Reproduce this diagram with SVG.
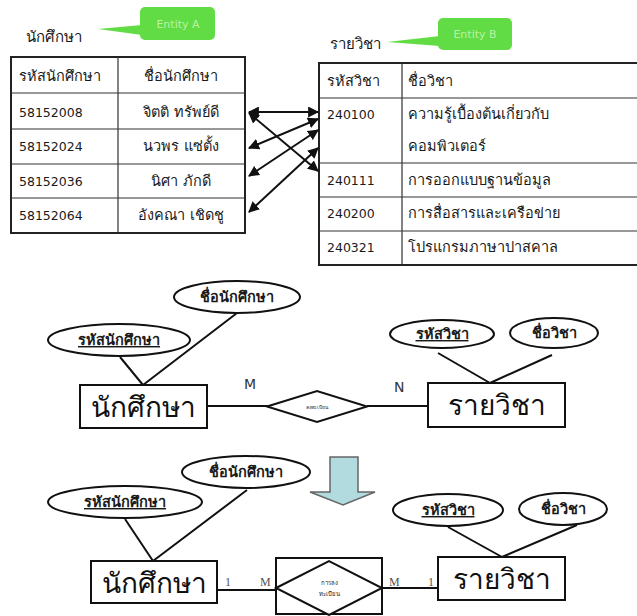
<svg xmlns="http://www.w3.org/2000/svg" width="637" height="616" viewBox="0 0 637 616">
<style>
text{font-family:"DejaVu Sans","Noto Sans",sans-serif;fill:#1a1a1a}
.t{font-size:12.5px}
.th{font-size:14.5px}
.lbl{font-size:15px}
.big{font-size:28px;fill:#111}
.attr{font-size:14.5px;font-weight:bold}
.ul{text-decoration:underline}
.card{font-size:14px;fill:#333}
.card2{font-family:"Liberation Serif",serif;font-size:12px;fill:#555}
.ent{fill:#fff;stroke:#111;stroke-width:2}
.ell{fill:#fff;stroke:#111;stroke-width:2}
.ln{stroke:#111;stroke-width:2;fill:none}
.grid{stroke:#333;stroke-width:1.2;fill:none}
.co{fill:#62dc45}
.cot{font-size:11px;fill:#b9f3a3}
.arr{stroke:#111;stroke-width:2;fill:none;marker-start:url(#ah);marker-end:url(#ah)}
</style>
<defs>
<marker id="ah" viewBox="0 0 10 10" refX="9" refY="5" markerWidth="5.5" markerHeight="5.5" orient="auto-start-reverse" markerUnits="strokeWidth">
<path d="M0,0 L10,5 L0,10 z" fill="#111"/>
</marker>
</defs>
<rect width="637" height="616" fill="#fff"/>

<g id="calloutA">
<polygon class="co" points="98,29 142,25 142,35"/>
<rect class="co" x="140" y="7" width="75" height="33" rx="5"/>
<text class="cot" x="178" y="28" text-anchor="middle">Entity A</text>
</g>
<g id="calloutB">
<polygon class="co" points="387,42 440,36 440,46"/>
<rect class="co" x="438" y="18" width="74" height="32" rx="5"/>
<text class="cot" x="475" y="38" text-anchor="middle">Entity B</text>
</g>

<g id="tableA">
<text class="lbl" x="26" y="42">นักศึกษา</text>
<rect x="11" y="57" width="234" height="176" fill="#fff" stroke="#222" stroke-width="2"/>
<path class="grid" d="M118,57V233 M11,93H245 M11,129H245 M11,164H245 M11,198H245"/>
<text class="th" x="19" y="81">รหัสนักศึกษา</text>
<text class="th" x="181" y="81" text-anchor="middle">ชื่อนักศึกษา</text>
<text class="t" x="19" y="117">58152008</text>
<text class="th" x="181" y="117" text-anchor="middle">จิตติ ทรัพย์ดี</text>
<text class="t" x="19" y="151">58152024</text>
<text class="th" x="181" y="151" text-anchor="middle">นวพร แซ่ตั้ง</text>
<text class="t" x="19" y="186">58152036</text>
<text class="th" x="181" y="186" text-anchor="middle">นิศา ภักดี</text>
<text class="t" x="19" y="220">58152064</text>
<text class="th" x="181" y="220" text-anchor="middle">อังคณา เชิดชู</text>
</g>

<g id="tableB">
<text class="lbl" x="330" y="49">รายวิชา</text>
<rect x="319" y="63" width="330" height="202" fill="#fff" stroke="#222" stroke-width="2"/>
<path class="grid" d="M402,63V265 M319,98H640 M319,163H640 M319,197H640 M319,231H640"/>
<text class="th" x="327" y="86">รหัสวิชา</text>
<text class="th" x="408" y="86">ชื่อวิชา</text>
<text class="t" x="327" y="119">240100</text>
<text class="th" x="408" y="119">ความรู้เบื้องต้นเกี่ยวกับ</text>
<text class="th" x="408" y="151">คอมพิวเตอร์</text>
<text class="t" x="327" y="185">240111</text>
<text class="th" x="408" y="185">การออกแบบฐานข้อมูล</text>
<text class="t" x="327" y="218">240200</text>
<text class="th" x="408" y="218">การสื่อสารและเครือข่าย</text>
<text class="t" x="327" y="252">240321</text>
<text class="th" x="408" y="252">โปรแกรมภาษาปาสคาล</text>
</g>

<g id="connectors">
<line class="arr" x1="249" y1="112" x2="318" y2="112"/>
<line class="arr" x1="249" y1="113" x2="318" y2="171"/>
<line class="arr" x1="249" y1="148" x2="318" y2="119"/>
<line class="arr" x1="249" y1="176" x2="318" y2="130"/>
<line class="arr" x1="249" y1="212" x2="318" y2="148"/>

<path class="ln" d="M120,357L143,385 M237,313L143,385 M207,406H268 M367,406H428 M438,353L490,383 M552,355L490,383"/>
<path class="ln" d="M125,519L153,561 M247,490L153,561 M217,590H276 M382,588H438 M448,527L502,557 M577,525L502,557"/>
</g>

<g id="er1-student">
<rect class="ent" x="80" y="385" width="127" height="43"/>
<text class="big" x="143.5" y="417" text-anchor="middle">นักศึกษา</text>
</g>
<g id="er1-sid">
<ellipse class="ell" cx="119" cy="340" rx="71" ry="16"/>
<text class="attr ul" x="119" y="345" text-anchor="middle">รหัสนักศึกษา</text>
</g>
<g id="er1-sname">
<ellipse class="ell" cx="237" cy="297" rx="63" ry="16"/>
<text class="attr" x="237" y="302" text-anchor="middle">ชื่อนักศึกษา</text>
</g>
<g id="er1-rel">
<polygon class="ell" points="267,406.5 317,391 367,406.5 317,422"/>
<text x="317" y="408.5" font-size="5" text-anchor="middle">ลงทะเบียน</text>
</g>
<text class="card" x="244" y="389">M</text>
<text class="card" x="394" y="392">N</text>
<g id="er1-course">
<rect class="ent" x="428" y="383" width="137" height="44"/>
<text class="big" x="496.5" y="415" text-anchor="middle">รายวิชา</text>
</g>
<g id="er1-cid">
<ellipse class="ell" cx="442" cy="334" rx="52" ry="14"/>
<text class="attr ul" x="442" y="339" text-anchor="middle">รหัสวิชา</text>
</g>
<g id="er1-cname">
<ellipse class="ell" cx="554" cy="333" rx="44" ry="15"/>
<text class="attr" x="554" y="338" text-anchor="middle">ชื่อวิชา</text>
</g>

<g id="arrowDown">
<polygon points="330,457 358,457 358,492 375,492 343,505 310,492 330,492" fill="#b2dbe0" stroke="#666" stroke-width="1.5"/>
</g>

<g id="er2-student">
<rect class="ent" x="91" y="561" width="126" height="42"/>
<text class="big" x="154" y="593" text-anchor="middle">นักศึกษา</text>
</g>
<g id="er2-sid">
<ellipse class="ell" cx="125" cy="502" rx="77" ry="16"/>
<text class="attr ul" x="125" y="507" text-anchor="middle">รหัสนักศึกษา</text>
</g>
<g id="er2-sname">
<ellipse class="ell" cx="246" cy="472" rx="64" ry="16"/>
<text class="attr" x="246" y="477" text-anchor="middle">ชื่อนักศึกษา</text>
</g>
<g id="er2-rel">
<rect class="ent" x="276" y="558" width="106" height="56"/>
<polygon class="ell" points="276,588 329,561 382,588 329,615"/>
<text x="329" y="585" font-size="6" text-anchor="middle">การลง</text>
<text x="329" y="596" font-size="6" text-anchor="middle">ทะเบียน</text>
</g>
<text class="card2" x="225" y="586">1</text>
<text class="card2" x="260" y="586">M</text>
<text class="card2" x="389" y="586">M</text>
<text class="card2" x="428" y="586">1</text>
<g id="er2-course">
<rect class="ent" x="438" y="557" width="127" height="43"/>
<text class="big" x="501.5" y="589" text-anchor="middle">รายวิชา</text>
</g>
<g id="er2-cid">
<ellipse class="ell" cx="448" cy="510" rx="55" ry="16"/>
<text class="attr ul" x="448" y="515" text-anchor="middle">รหัสวิชา</text>
</g>
<g id="er2-cname">
<ellipse class="ell" cx="563" cy="509" rx="44" ry="16"/>
<text class="attr" x="563" y="514" text-anchor="middle">ชื่อวิชา</text>
</g>
</svg>
